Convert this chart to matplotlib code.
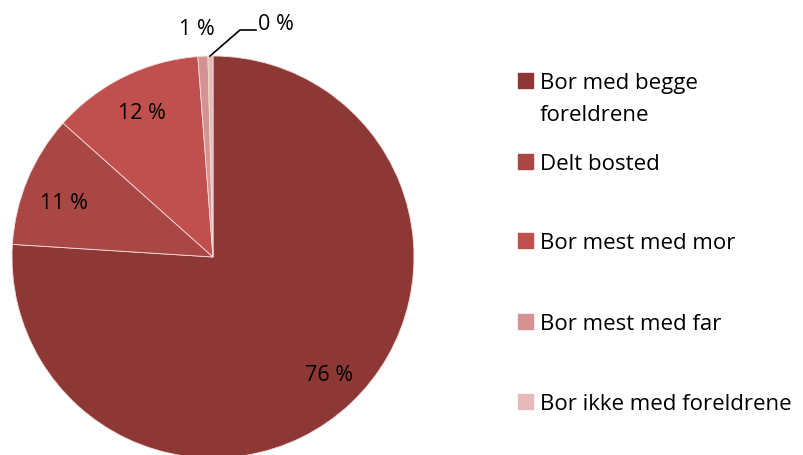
import numpy as np
import matplotlib.pyplot as plt
from matplotlib.patches import Rectangle

plt.rcParams['font.family'] = ['Open Sans', 'DejaVu Sans']

categories = ["Bor med begge\nforeldrene", "Delt bosted", "Bor mest med mor",
              "Bor mest med far", "Bor ikke med foreldrene"]
shares = [76.0, 10.6, 12.2, 0.8, 0.4]
colors = ["#8E3836", "#A94744", "#C0504D", "#D49392", "#E6BAB9"]

W, H = 804, 456
fig = plt.figure(figsize=(W / 100, H / 100), dpi=100)
ax = fig.add_axes([0, 0, 1, 1])

cx, cy, r = 213, 198, 201
wedges, texts, autotexts = ax.pie(
    shares, colors=colors, startangle=90, counterclock=False,
    center=(cx, cy), radius=r, autopct=lambda p: f"{p:.0f} %",
    pctdistance=0.8, textprops=dict(fontsize=15.5, color="black"),
    wedgeprops=dict(edgecolor="#f2dcdb", linewidth=0.6))

# nudge labels to match the original placement
x0, y0 = autotexts[0].get_position()
autotexts[0].set_position((x0 + 6, y0))
x1, y1 = autotexts[1].get_position()
autotexts[1].set_position((x1 - 1, y1 - 8))

# small slices: labels outside the pie
autotexts[3].set_position((cx - 16, cy + 229))
autotexts[4].set_position((cx + 63, cy + 234))
ax.plot([cx - 3, cx + 27, cx + 43], [cy + r, cy + r + 26, cy + r + 26],
        color="black", lw=1.2)

ax.set_xlim(0, W)
ax.set_ylim(0, H)
ax.set_aspect("equal")
ax.axis("off")

# legend (baseline of first line per entry)
rows_base = [89, 170, 249, 330, 410]
for name, col, yb in zip(categories, colors, rows_base):
    fig.patches.append(Rectangle((518 / W, 1 - yb / H), 15 / W, 15 / H,
                                 transform=fig.transFigure, color=col))
    lines = name.split("\n")
    for i, line in enumerate(lines):
        fig.text(540 / W, 1 - (yb + 32 * i) / H, line, fontsize=16,
                 va="baseline", ha="left")

fig.savefig("out.png", dpi=100)
